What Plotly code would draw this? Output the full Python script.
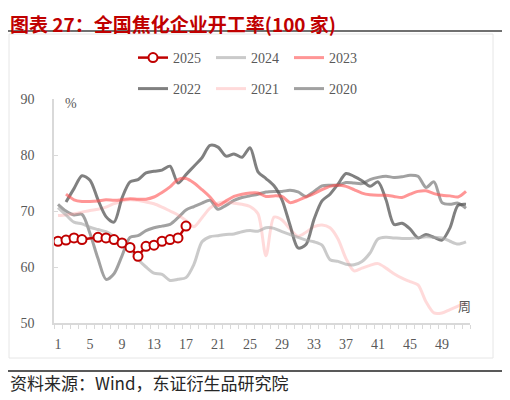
import plotly.graph_objects as go

# weekly operating rate of 100 coking plants, %
weeks_2025 = [1, 2, 3, 4, 6, 7, 8, 9, 10, 11, 12, 13, 14, 15, 16, 17]
rate_2025 = [64.6, 64.8, 65.2, 64.9, 65.3, 65.2, 64.9, 64.3, 63.5, 61.9, 63.7, 63.9, 64.6, 64.9, 65.2, 67.3]

weeks_2024 = list(range(1, 53))
rate_2024 = [70.6, 69.3, 68.0, 67.7, 67.1, 66.7, 66.3, 65.5, 64.6, 63.2,
             61.4, 60.0, 58.9, 58.7, 57.6, 57.8, 58.1, 60.5, 64.5, 65.4,
             65.6, 65.8, 65.9, 66.3, 66.5, 66.4, 67.0, 66.9, 66.3, 65.8,
             65.3, 64.8, 64.5, 63.9, 61.3, 61.0, 60.5, 60.4, 61.0, 62.5,
             65.0, 65.3, 65.2, 65.1, 65.1, 65.2, 65.4, 65.3, 65.2, 64.6,
             64.1, 64.5]

weeks_2023 = list(range(2, 53))
rate_2023 = [73.0, 72.0, 71.7, 71.7, 71.8, 72.0, 71.9, 72.0, 72.2, 72.1,
             72.1, 72.5, 73.3, 74.3, 75.6, 75.8, 75.0, 73.8, 72.5, 71.0,
             71.8, 72.6, 73.0, 73.2, 73.2, 72.6, 72.7, 72.6, 71.5, 71.9,
             72.5, 73.1, 73.8, 74.4, 74.6, 74.4, 73.8, 73.2, 72.9, 72.8,
             72.8, 72.6, 72.4, 73.0, 73.5, 73.6, 73.1, 72.8, 72.7, 72.5,
             73.5]

weeks_2022 = list(range(2, 53))
rate_2022 = [71.6, 74.0, 76.3, 75.5, 72.0, 69.0, 68.0, 72.3, 75.2, 75.6,
             76.8, 77.1, 77.3, 78.0, 75.0, 76.5, 78.0, 79.5, 81.7, 81.4,
             79.8, 80.2, 79.6, 81.3, 77.0, 75.8, 74.5, 72.0, 67.5, 63.4,
             64.0, 68.5, 71.8, 73.0, 74.8, 76.7, 76.2, 75.4, 74.4, 75.2,
             72.0, 67.6, 67.8, 66.8, 65.2, 65.8, 65.3, 64.8, 67.0, 71.0,
             71.2]

weeks_2021 = list(range(1, 53))
rate_2021 = [69.2, 69.3, 69.5, 69.8, 70.1, 70.3, 70.7, 71.3, 71.8, 72.0,
             71.9, 71.6, 71.3, 70.7, 70.0, 69.3, 68.3, 67.2, 68.8, 70.5,
             71.4, 71.6, 71.4, 71.2, 70.8, 69.5, 62.0, 68.9, 68.4, 66.8,
             65.5, 66.2, 67.2, 67.5, 67.0, 65.0, 61.5, 59.3, 59.8, 60.3,
             60.6, 59.8, 58.8, 58.0, 57.4, 56.8, 53.8, 51.8, 51.8, 52.4,
             53.0, 53.6]

weeks_2020 = list(range(1, 53))
rate_2020 = [71.2, 70.0, 69.3, 69.4, 66.0, 61.5, 57.8, 58.8, 62.0, 65.3,
             65.6, 66.5, 67.0, 67.3, 67.6, 68.8, 70.2, 70.8, 71.4, 71.9,
             70.3, 71.0, 71.9, 72.4, 72.7, 73.0, 73.4, 73.5, 73.5, 73.7,
             73.4, 72.6, 73.5, 74.5, 74.6, 74.6, 75.1, 75.0, 74.9, 75.6,
             76.0, 76.2, 76.0, 76.1, 76.4, 76.2, 74.2, 75.2, 71.5, 71.2,
             71.4, 70.5]

tick_weeks = list(range(1, 53))
tick_text = [str(w) if (w - 1) % 4 == 0 else "" for w in tick_weeks]

# the page body has an 8px margin, so the figure is drawn 8px in from the window corner
OFF = 8
W, H = 510 - OFF, 400 - OFF
L, R, T, B = 46, 40, 91, 77
pw, ph = W - L - R, H - T - B


def px_x(sx):
    # window pixel -> paper x
    return (sx - OFF - L) / pw


def px_y(sy):
    # window pixel -> paper y
    return (H - B - (sy - OFF)) / ph


fig = go.Figure()

# name, x, y, colour, legend slot
series = [
    ("2020", weeks_2020, rate_2020, "rgba(110,110,110,0.65)", "legend6"),
    ("2021", weeks_2021, rate_2021, "rgba(255,150,150,0.35)", "legend5"),
    ("2022", weeks_2022, rate_2022, "rgba(85,85,85,0.75)", "legend4"),
    ("2023", weeks_2023, rate_2023, "rgba(255,80,80,0.6)", "legend3"),
    ("2024", weeks_2024, rate_2024, "rgba(166,166,166,0.6)", "legend2"),
]
for name, xs, ys, color, leg in series:
    fig.add_trace(go.Scatter(
        x=xs, y=ys, name=name, mode="lines",
        line=dict(color=color, width=3, shape="spline", smoothing=0.8),
        legend=leg,
    ))

fig.add_trace(go.Scatter(
    x=weeks_2025, y=rate_2025, name="2025", mode="lines+markers",
    line=dict(color="#C00000", width=2.5),
    marker=dict(symbol="circle", size=9, color="white",
                line=dict(color="#C00000", width=2)),
    legend="legend",
))

serif = "Liberation Serif, Times New Roman, DejaVu Serif, serif"
axis_font = dict(family=serif, size=14, color="#595959")
cjk = "Noto Sans CJK SC"


def legend_at(sx, sy):
    return dict(
        x=px_x(sx), y=px_y(sy), xanchor="left", yanchor="middle",
        orientation="h", font=axis_font, bgcolor="rgba(0,0,0,0)",
    )


fig.update_layout(
    width=W, height=H,
    margin=dict(l=L, r=R, t=T, b=B, autoexpand=False),
    paper_bgcolor="white", plot_bgcolor="white",
    legend=legend_at(133, 58),
    legend2=legend_at(211, 58),
    legend3=legend_at(289, 58),
    legend4=legend_at(133, 89),
    legend5=legend_at(211, 89),
    legend6=legend_at(289, 89),
    xaxis=dict(
        range=[0.5, 52.5],
        tickmode="array", tickvals=tick_weeks, ticktext=tick_text,
        ticks="outside", ticklen=0,
        minor=dict(tickmode="linear", tick0=0.5, dtick=1, ticks="outside",
                   ticklen=4, tickcolor="#D9D9D9", tickwidth=1),
        showline=True, linecolor="#D9D9D9", linewidth=1.5,
        showgrid=False, zeroline=False,
        tickfont=axis_font, ticklabelstandoff=7,
    ),
    yaxis=dict(
        range=[50, 90], tickvals=[50, 60, 70, 80, 90],
        ticks="inside", ticklen=4, tickcolor="#D9D9D9",
        showline=True, linecolor="#D9D9D9", linewidth=1.5,
        showgrid=False, zeroline=False,
        tickfont=axis_font, ticklabelstandoff=15,
    ),
    shapes=[
        dict(type="line", xref="paper", yref="paper",
             x0=px_x(8), x1=px_x(505), y0=px_y(31), y1=px_y(31),
             line=dict(color="#404040", width=1.5)),
        dict(type="rect", xref="paper", yref="paper",
             x0=px_x(9), x1=px_x(493), y0=px_y(358), y1=px_y(34),
             line=dict(color="#E6E6E6", width=1)),
        dict(type="line", xref="paper", yref="paper",
             x0=px_x(8), x1=px_x(505), y0=px_y(371), y1=px_y(371),
             line=dict(color="#595959", width=2)),
    ],
    annotations=[
        dict(text="<b>图表 27：全国焦化企业开工率(100 家)</b>",
             xref="paper", yref="paper", x=px_x(8), y=px_y(8),
             xanchor="left", yanchor="top", showarrow=False,
             font=dict(family=cjk, size=19, color="#C00000")),
        dict(text="%", xref="paper", yref="paper", x=px_x(71), y=px_y(103),
             xanchor="center", yanchor="middle",
             showarrow=False, font=axis_font),
        dict(text="周", xref="paper", yref="paper", x=px_x(464), y=px_y(305),
             xanchor="center", yanchor="middle",
             showarrow=False, font=dict(family=cjk, size=13, color="#595959")),
        dict(text="资料来源：Wind，东证衍生品研究院", xref="paper", yref="paper",
             x=px_x(8), y=px_y(382), xanchor="left", yanchor="middle",
             showarrow=False, font=dict(family=cjk, size=17, color="#262626")),
    ],
    showlegend=True,
)

fig.write_html("out.html")
